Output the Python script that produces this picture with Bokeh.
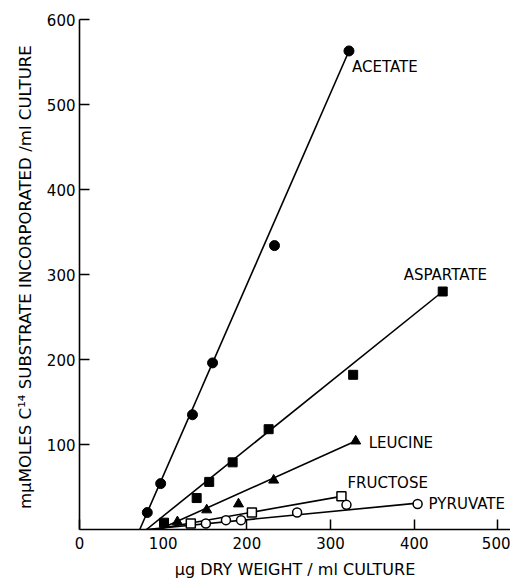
from bokeh.plotting import figure
from bokeh.models import Range1d, FixedTicker, ColumnDataSource
from bokeh.core.properties import value
from bokeh.embed import file_html
from bokeh.resources import INLINE

# ---- data ----
acetate_x = [81, 97, 135, 159, 233, 322]
acetate_y = [20, 54, 135, 196, 334, 563]
acetate_fit_x = [72, 322]
acetate_fit_y = [0, 563]

aspartate_x = [101, 140, 155, 183, 226, 327, 434]
aspartate_y = [8, 37, 56, 79, 118, 182, 280]
aspartate_fit_x = [80, 434]
aspartate_fit_y = [0, 280]

leucine_x = [117, 152, 190, 232, 330]
leucine_y = [9, 23, 30, 58, 104]
leucine_fit_x = [95, 330]
leucine_fit_y = [0, 104]

fructose_x = [133, 206, 313]
fructose_y = [7, 20, 39]
fructose_fit_x = [89, 313]
fructose_fit_y = [0, 39]

pyruvate_x = [151, 175, 193, 260, 319, 404]
pyruvate_y = [7, 11, 11, 20, 29, 30]
pyruvate_fit_x = [80, 404]
pyruvate_fit_y = [0, 31]

series_names = ["ACETATE", "ASPARTATE", "LEUCINE", "FRUCTOSE", "PYRUVATE"]
x_ticks = [0, 100, 200, 300, 400, 500]
y_ticks = [100, 200, 300, 400, 500, 600]

FONT = "DejaVu Sans"

p = figure(width=510, height=581, output_backend="svg", toolbar_location=None,
           x_range=Range1d(0, 515), y_range=Range1d(0, 600),
           min_border_left=79, min_border_right=0, min_border_top=19, min_border_bottom=52)
p.background_fill_color = "white"
p.border_fill_color = "white"
p.outline_line_color = None
p.grid.visible = False

for ax in (p.xaxis[0], p.yaxis[0]):
    ax.axis_line_width = 1.6
    ax.axis_line_color = "black"
    ax.major_tick_in = 10
    ax.major_tick_out = 0
    ax.major_tick_line_width = 1.5
    ax.major_tick_line_color = "black"
    ax.minor_tick_line_color = None
    ax.major_label_text_font = FONT
    ax.major_label_text_font_size = "15px"
    ax.major_label_text_color = "black"
    ax.axis_label_text_font = FONT
    ax.axis_label_text_font_style = "normal"
    ax.axis_label_text_color = "black"

p.xaxis.ticker = FixedTicker(ticks=x_ticks)
p.yaxis.ticker = FixedTicker(ticks=y_ticks)
p.xaxis.major_label_standoff = 7
p.yaxis.major_label_standoff = 4
p.xaxis.axis_label = "µg DRY WEIGHT / ml CULTURE"
p.xaxis.axis_label_text_font_size = "16px"
p.xaxis.axis_label_standoff = 8
p.yaxis.axis_label = "mµMOLES C¹⁴ SUBSTRATE  INCORPORATED /ml CULTURE"
p.yaxis.axis_label_text_font_size = "16.6px"
p.yaxis.axis_label_standoff = 9

LW = 1.6
# fitted lines
for fx, fy in [(acetate_fit_x, acetate_fit_y), (aspartate_fit_x, aspartate_fit_y),
               (leucine_fit_x, leucine_fit_y), (fructose_fit_x, fructose_fit_y),
               (pyruvate_fit_x, pyruvate_fit_y)]:
    p.line(fx, fy, line_color="black", line_width=LW)

# markers
p.scatter(acetate_x, acetate_y, marker="circle", size=10, fill_color="black", line_color="black")
p.scatter(aspartate_x, aspartate_y, marker="square", size=9, fill_color="black", line_color="black")
p.scatter(leucine_x, leucine_y, marker="triangle", size=10, fill_color="black", line_color="black")
p.scatter(fructose_x, fructose_y, marker="square", size=9, fill_color="white", line_color="black", line_width=1.5)
p.scatter(pyruvate_x, pyruvate_y, marker="circle", size=9, fill_color="white", line_color="black", line_width=1.5)

# series labels, anchored to each series' last point
lab_src = ColumnDataSource(dict(
    x=[acetate_x[-1], aspartate_x[-1], leucine_x[-1], fructose_x[-1], pyruvate_x[-1]],
    y=[acetate_y[-1], aspartate_y[-1], leucine_y[-1], fructose_y[-1], pyruvate_y[-1]],
    text=series_names,
    xo=[3, -39, 13, 6, 11],
    yo=[16, -17, 2, -13, 0],
))
p.text(x="x", y="y", text="text", x_offset="xo", y_offset="yo", source=lab_src,
       text_font=value(FONT), text_font_size="15px", text_color="black",
       text_align="left", text_baseline="middle")

open("out.html", "w").write(file_html(p, INLINE))
